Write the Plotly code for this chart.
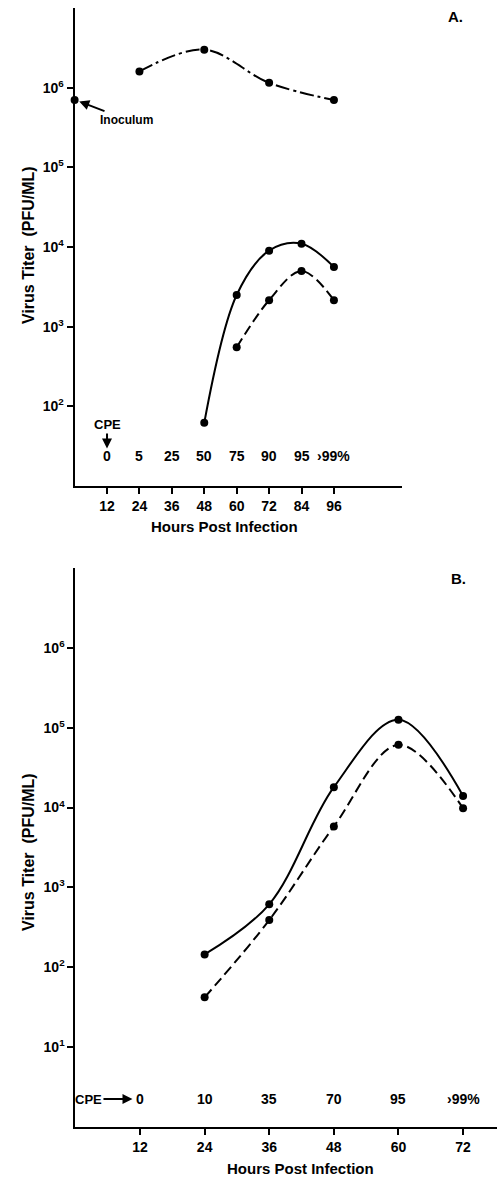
import math
import plotly.graph_objects as go

# ---------------- Panel A data ----------------
a_hours_cell = [24, 48, 72, 96]
a_titer_cell = [1.6e6, 3.0e6, 1.15e6, 7.0e5]          # dash-dot series
a_inoc_hour = [0]
a_inoc_titer = [7.0e5]                                 # inoculum point
a_hours_solid = [48, 60, 72, 84, 96]
a_titer_solid = [62, 2500, 9000, 1.1e4, 5600]
a_hours_dash = [60, 72, 84, 96]
a_titer_dash = [550, 2150, 5000, 2150]
a_cpe_hours = [12, 24, 36, 48, 60, 72, 84, 96]
a_cpe_labels = ["0", "5", "25", "50", "75", "90", "95", "›99%"]
a_xticks = [12, 24, 36, 48, 60, 72, 84, 96]
a_yticks = [1e2, 1e3, 1e4, 1e5, 1e6]

# ---------------- Panel B data ----------------
b_hours = [24, 36, 48, 60, 72]
b_titer_solid = [145, 615, 1.8e4, 1.26e5, 1.4e4]
b_titer_dash = [42, 390, 5800, 6.1e4, 9800]
b_cpe_hours = [12, 24, 36, 48, 60, 72]
b_cpe_labels = ["0", "10", "35", "70", "95", "›99%"]
b_xticks = [12, 24, 36, 48, 60, 72]
b_yticks = [1e1, 1e2, 1e3, 1e4, 1e5, 1e6]

W, H = 497, 1179
FONT = "Liberation Sans"


def sup(v):
    e = int(round(math.log10(v)))
    return "10<sup>%d</sup>" % e


fig = go.Figure()

mk = dict(color="black", size=8)
# Panel A traces
fig.add_trace(go.Scatter(x=a_hours_cell, y=a_titer_cell, mode="lines+markers",
                         line=dict(color="black", width=2, dash="14px,4px,3px,4px", shape="spline"),
                         marker=mk, xaxis="x", yaxis="y", cliponaxis=False, showlegend=False))
fig.add_trace(go.Scatter(x=a_inoc_hour, y=a_inoc_titer, mode="markers",
                         marker=mk, xaxis="x", yaxis="y", cliponaxis=False, showlegend=False))
fig.add_trace(go.Scatter(x=a_hours_solid, y=a_titer_solid, mode="lines+markers",
                         line=dict(color="black", width=2, shape="spline"),
                         marker=mk, xaxis="x", yaxis="y", cliponaxis=False, showlegend=False))
fig.add_trace(go.Scatter(x=a_hours_dash, y=a_titer_dash, mode="lines+markers",
                         line=dict(color="black", width=2, dash="10px,5px", shape="spline"),
                         marker=mk, xaxis="x", yaxis="y", cliponaxis=False, showlegend=False))
# Panel B traces
fig.add_trace(go.Scatter(x=b_hours, y=b_titer_solid, mode="lines+markers",
                         line=dict(color="black", width=2, shape="spline"),
                         marker=mk, xaxis="x2", yaxis="y2", cliponaxis=False, showlegend=False))
fig.add_trace(go.Scatter(x=b_hours, y=b_titer_dash, mode="lines+markers",
                         line=dict(color="black", width=2, dash="10px,5px", shape="spline"),
                         marker=mk, xaxis="x2", yaxis="y2", cliponaxis=False, showlegend=False))

axis_common = dict(showline=True, linecolor="black", linewidth=2, ticks="outside",
                   ticklen=6, tickwidth=2, tickcolor="black", showgrid=False, zeroline=False,
                   tickfont=dict(family=FONT, size=14, color="black", weight="bold"))

fig.update_layout(
    width=W, height=H, margin=dict(l=0, r=0, t=0, b=0),
    paper_bgcolor="white", plot_bgcolor="white",
    font=dict(family=FONT, color="black"),
    xaxis=dict(domain=[74.6 / W, 402 / W], range=[0, 121.2], anchor="y",
               tickvals=a_xticks, ticktext=[str(v) for v in a_xticks], **axis_common),
    yaxis=dict(domain=[1 - 486 / H, 1 - 8 / H], type="log", range=[1, 7], anchor="x",
               tickvals=a_yticks, ticktext=[sup(v) for v in a_yticks], **axis_common),
    xaxis2=dict(domain=[75.4 / W, 1.0], range=[0, 78.3], anchor="y2",
                tickvals=b_xticks, ticktext=[str(v) for v in b_xticks], **axis_common),
    yaxis2=dict(domain=[1 - 1127 / H, 1 - 568 / H], type="log", range=[0, 7], anchor="x2",
                tickvals=b_yticks, ticktext=[sup(v) for v in b_yticks], **axis_common),
)

ann = []
tf = dict(family=FONT, size=14, color="black", weight="bold")
C = dict(xanchor="center", yanchor="middle")
# CPE rows
for h, lab in zip(a_cpe_hours, a_cpe_labels):
    ann.append(dict(x=h, y=1.375, xref="x", yref="y", text=lab, showarrow=False, font=tf, **C))
for h, lab in zip(b_cpe_hours, b_cpe_labels):
    ann.append(dict(x=h, y=0.35, xref="x2", yref="y2", text=lab, showarrow=False, font=tf, **C))
# CPE arrows
af = dict(family=FONT, size=13, color="black", weight="bold")
ann.append(dict(x=12, y=1.47, xref="x", yref="y", text="CPE", showarrow=True,
                arrowhead=2, arrowsize=1, arrowwidth=2, arrowcolor="black", ax=0, ay=-24,
                font=af))
ann.append(dict(x=10.6, y=0.35, xref="x2", yref="y2", text="CPE", showarrow=True,
                arrowhead=2, arrowsize=1, arrowwidth=2, arrowcolor="black", ax=-44, ay=0,
                font=af))
# Inoculum
ann.append(dict(x=0, y=5.85, xref="x", yref="y", text="Inoculum", showarrow=True,
                arrowhead=2, arrowsize=1, arrowwidth=2, arrowcolor="black", ax=52, ay=20,
                standoff=5, font=dict(family=FONT, size=12, color="black", weight="bold")))
# Panel letters
lf = dict(family=FONT, size=15, color="black", weight="bold")
ann.append(dict(x=455 / W, y=1 - 17 / H, xref="paper", yref="paper", text="A.",
                showarrow=False, font=lf, **C))
ann.append(dict(x=458 / W, y=1 - 578 / H, xref="paper", yref="paper", text="B.",
                showarrow=False, font=lf, **C))
# Axis titles
tt = dict(family=FONT, size=15, color="black", weight="bold")
yt = dict(family=FONT, size=16, color="black", weight="bold")
ann.append(dict(x=224 / W, y=1 - 527 / H, xref="paper", yref="paper", text="Hours Post Infection",
                showarrow=False, font=tt, **C))
ann.append(dict(x=300 / W, y=1 - 1168 / H, xref="paper", yref="paper", text="Hours Post Infection",
                showarrow=False, font=tt, **C))
ann.append(dict(x=28 / W, y=1 - 245 / H, xref="paper", yref="paper", text="Virus Titer  (PFU/ML)",
                showarrow=False, textangle=-90, font=yt, **C))
ann.append(dict(x=28 / W, y=1 - 852 / H, xref="paper", yref="paper", text="Virus Titer  (PFU/ML)",
                showarrow=False, textangle=-90, font=yt, **C))
fig.update_layout(annotations=ann)

fig.write_html("out.html")
